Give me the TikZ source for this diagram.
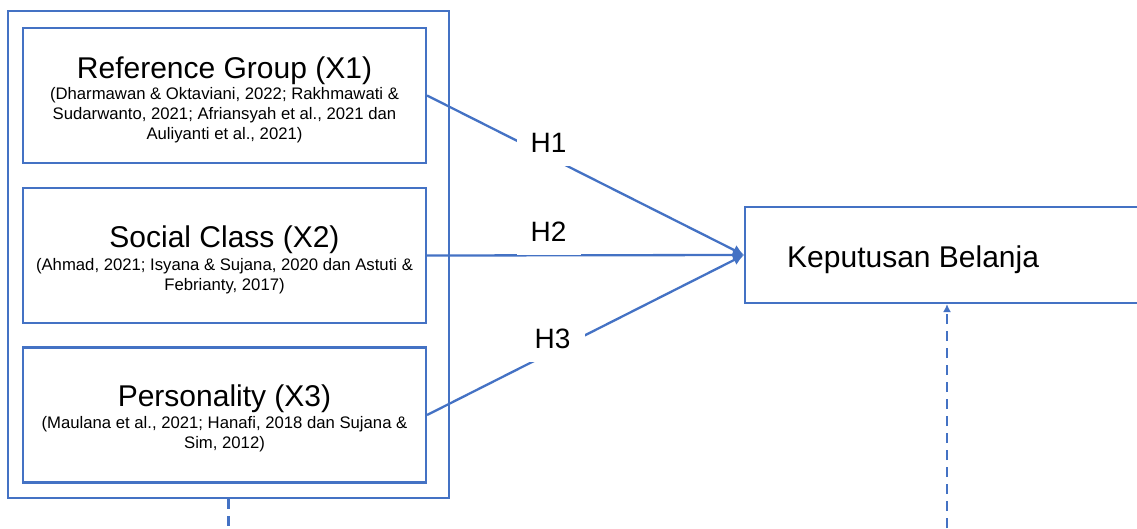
\documentclass[tikz,border=0pt]{standalone}
\usepackage{fontspec}
\setmainfont{Liberation Sans}
\usetikzlibrary{arrows.meta}
\definecolor{lineblue}{HTML}{4472C4}
\begin{document}
\begin{tikzpicture}[x=1pt,y=-1pt,
  box/.style={draw=lineblue, line width=2.1pt, rectangle, inner sep=0pt},
  conn/.style={draw=lineblue, line width=2.3pt, -{Latex[length=11pt,width=11pt]}},
  dashconn/.style={draw=lineblue, line width=2.4pt, dash pattern=on 10pt off 7pt},
  dasharrow/.style={dashconn, -{Latex[length=8pt,width=8pt]}},
  hlabel/.style={fill=white, inner sep=0pt, minimum width=64pt, minimum height=46pt, font=\fontsize{28}{32}\selectfont},
  titletext/.style={inner sep=0pt, anchor=base, font=\fontsize{30}{34}\selectfont},
  citetext/.style={inner sep=0pt, anchor=north, align=center, font=\fontsize{16.7}{20}\selectfont}]
\useasboundingbox (0,0) rectangle (1137,528);
% outer group box
\node[box, minimum width=441pt, minimum height=487pt] (grp) at (228.5,254.5) {};
% variable boxes
\node[box, minimum width=403pt, minimum height=135pt] (x1) at (224.5,95.5) {};
\node[box, minimum width=403pt, minimum height=135pt] (x2) at (224.5,255.5) {};
\node[box, minimum width=403pt, minimum height=135pt] (x3) at (224.5,415) {};
% target box
\node[box, minimum width=410pt, minimum height=96pt] (kb) at (950,255) {};
% texts
\node[titletext] (t1) at (224.5,78) {Reference Group (X1)};
\node[citetext] (c1) at (224.5,86.8) {(Dharmawan \& Oktaviani, 2022; Rakhmawati \&\\Sudarwanto, 2021; Afriansyah et al., 2021 dan\\Auliyanti et al., 2021)};
\node[titletext] (t2) at (224.5,247) {Social Class (X2)};
\node[citetext] (c2) at (224.5,257.8) {(Ahmad, 2021; Isyana \& Sujana, 2020 dan Astuti \&\\Febrianty, 2017)};
\node[titletext] (t3) at (224.5,406) {Personality (X3)};
\node[citetext] (c3) at (224.5,415.8) {(Maulana et al., 2021; Hanafi, 2018 dan Sujana \&\\Sim, 2012)};
\node[titletext, anchor=base west] (tk) at (787,267) {Keputusan Belanja};
% connectors
\draw[conn] (x1.east) -- (kb.west);
\draw[conn] (x2.east) -- (kb.west);
\draw[conn] (x3.east) -- (kb.west);
% hypothesis labels
\node[hlabel] (h1) at (548.5,143) {H1};
\node[hlabel] (h2) at (548.5,232) {H2};
\node[hlabel] (h3) at (552.5,339) {H3};
% dashed lines
\coordinate (d1) at (228.5,528);
\coordinate (d2) at (947,528);
\draw[dashconn] (grp.south) -- (d1);
\draw[dasharrow] (d2) -- (d2 |- kb.south);
\end{tikzpicture}
\end{document}
